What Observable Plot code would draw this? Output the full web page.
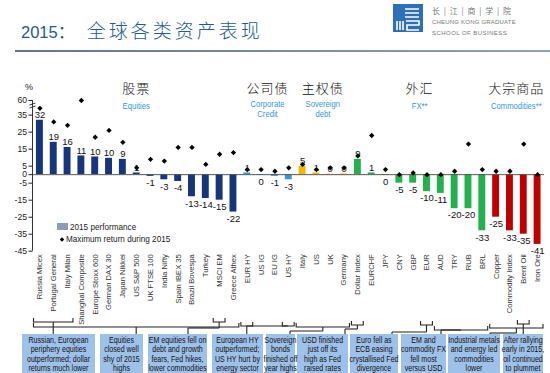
<!DOCTYPE html>
<html><head><meta charset="utf-8">
<script src="https://cdn.jsdelivr.net/npm/d3@7"></script>
<script src="https://cdn.jsdelivr.net/npm/@observablehq/plot@0.6"></script>
<style>
body{margin:0;background:#fff;}
#wrap{position:relative;width:550px;height:373px;overflow:hidden;font-family:"Liberation Sans Narrow","Arial Narrow","Liberation Sans",Arial,sans-serif;}
#wrap svg{position:absolute;left:0;top:0;}
.abs{position:absolute;white-space:nowrap;}
</style></head><body><div id="wrap"></div>
<script>
// ---------- data ----------
const groupKeys = ["Equities", "Corporate Credit", "Sovereign debt", "FX", "Commodities"];
const groupColors = ["#17357c", "#3598d8", "#f5b700", "#22b14c", "#c00000"];
const groupZh = ["股票", "公司债", "主权债", "外汇", "大宗商品"];
const groupEn = [["Equities"], ["Corporate", "Credit"], ["Sovereign", "debt"], ["FX**"], ["Commodities**"]];

const equityNames = ["Russia Micex","Portugal General","Italy Milan","Shanghai Composite","Europe Stoxx 600","German DAX 30","Japan Nikkei","US S&P 500","UK FTSE 100","India Nifty","Spain IBEX 35","Brazil Bovespa","Turkey","MSCI EM","Greece Athex"];
const equityPerf  = [32, 19, 16, 11, 10.4, 9.6, 9, 1, -1, -3, -4, -13, -14, -15, -22];
const equityMax   = [39, 31, 29, 60, 22, 26, 19, 4, 9, 8, 16, 16, 6, 12, 13];

const creditNames = ["EUR HY","US IG","EU IG","US HY"];
const creditPerf  = [1, -0.3, -1, -3];
const creditMax   = [3, 3, 2, 4];

const sovNames = ["Italy","US","UK","Germany"];
const sovPerf  = [5, 1, 0.3, 0.4];
const sovMax   = [6, 3, 4, 4];

const fxNames = ["Dollar Index","EURCHF","JPY","CNY","GBP","EUR","AUD","TRY","RUB","BRL"];
const fxPerf  = [9, 1, -0.4, -5, -5, -10, -11, -20, -20, -33];
const fxMax   = [11, 23, 3, 0, 1, 0, 0, 2, 18, 3];

const comNames = ["Copper","Commodity Index","Brent Oil","Iron Ore"];
const comPerf  = [-25, -33, -35, -41];
const comMax   = [2, 2, 18, 0];

const yTicks = [-45, -35, -25, -15, -5, 0, 5, 15, 25, 35, 60];

const noteTexts = [
  ["Russian, European","periphery equities","outperformed; dollar","returns much lower"],
  ["Equities","closed well","shy of 2015","highs"],
  ["EM equities fell on","debt and growth","fears, Fed hikes,","lower commodities"],
  ["European HY","outperformed;","US HY hurt by","energy sector"],
  ["Sovereign","bonds","finished off","year highs"],
  ["USD finished","just off its","high as Fed","raised rates"],
  ["Euro fell as","ECB easing","crystallised Fed","divergence"],
  ["EM and","commodity FX","fell most","versus USD"],
  ["Industrial metals","and energy led","commodities","lower"],
  ["After rallying","early in 2015,","oil continued","to plummet"]
];
const noteSpans = [
  [["Russia Micex","Italy Milan"]],
  [["Russia Micex","Greece Athex"]],
  [["MSCI EM","MSCI EM"]],
  [["EUR HY","EUR HY"],["US HY","US HY"]],
  [["Italy","Germany"]],
  [["Dollar Index","Dollar Index"]],
  [["EUR","EUR"]],
  [["AUD","BRL"]],
  [["Copper","Iron Ore"]],
  [["Brent Oil","Brent Oil"]]
];

// ---------- table ----------
const groupData = [
  [equityNames, equityPerf, equityMax],
  [creditNames, creditPerf, creditMax],
  [sovNames, sovPerf, sovMax],
  [fxNames, fxPerf, fxMax],
  [comNames, comPerf, comMax]
];
const rows = [];
groupData.forEach(([n, p, m], gi) => n.forEach((name, i) => rows.push({name, group: groupKeys[gi], perf: p[i], max: m[i]})));
const names = rows.map(d => d.name);

// broken axis above 40
const brk = v => v > 40 ? 40 + (v - 40) * 0.18 : v;

const FONT = '"Liberation Sans Narrow","Arial Narrow","Liberation Sans",Arial,sans-serif';
const CJK = '"Noto Sans CJK SC","Noto Sans CJK TC",sans-serif';

const plot = Plot.plot({
  width: 550, height: 373,
  marginLeft: 32.5, marginRight: 6, marginTop: 100, marginBottom: 122.3,
  style: {fontFamily: FONT, fontSize: "10px", background: "transparent", color: "#222", overflow: "visible"},
  x: {type: "band", domain: names, paddingInner: 0.5, paddingOuter: 0.25, axis: null, label: null},
  y: {domain: [-45, brk(60)], axis: null, label: null},
  color: {domain: groupKeys, range: groupColors},
  marks: [
    Plot.axisY({ticks: yTicks.map(brk), tickFormat: d => d > 40 ? "60" : String(d), tickSize: 4, tickPadding: 2, fontSize: 8.6, label: null}),
    Plot.axisX({tickRotate: -90, tickSize: 0, tickPadding: 3, fontSize: 7.6, fill: "#333", label: null}),
    Plot.barY(rows, {x: "name", y: "perf", fill: "group"}),
    Plot.ruleY([0], {stroke: "#555", strokeWidth: 1}),
    Plot.dot(rows, {x: "name", y: d => brk(d.max), symbol: "diamond2", r: 2.4, fill: "#000", stroke: "none"}),
    Plot.text(rows.filter(d => d.perf >= 0), {x: "name", y: "perf", text: d => `${Math.round(d.perf)}`, lineAnchor: "bottom", dy: -2, fontSize: 9.5, fill: "#111"}),
    Plot.text(rows.filter(d => d.perf < 0), {x: "name", y: "perf", text: d => `${Math.round(d.perf)}`, lineAnchor: "top", dy: 3, fontSize: 9.5, fill: "#111"})
  ]
});

const wrap = document.getElementById("wrap");
wrap.appendChild(plot);

// ---------- annotations using the plot's scales ----------
const xs = plot.scale("x"), ys = plot.scale("y");
const bw = xs.bandwidth, step = xs.step;
const cx = n => xs.apply(n) + bw / 2;
const L = n => cx(n) - step / 2 + 1, R = n => cx(n) + step / 2 - 1;
const svg = d3.select(plot);
const x0 = xs.range[0];
const yTop = ys.apply(brk(60)), yBot = ys.apply(-45);

function ntext(g, x, y, s, size, anchor, sx = 0.86) {
  return g.append("text").attr("transform", `translate(${x},${y}) scale(${sx},1)`)
    .attr("text-anchor", anchor).attr("dominant-baseline", "middle").attr("font-size", size).text(s);
}

const ax = svg.append("g").attr("stroke", "#333").attr("fill", "none");
ax.append("line").attr("x1", x0).attr("x2", x0).attr("y1", yTop).attr("y2", yBot);
ax.append("path").attr("d", `M${x0-3},${yTop+5} l6,-2 M${x0-3},${yTop+8} l6,-2`);
svg.append("text").attr("x", 29).attr("y", 88).attr("text-anchor", "middle").attr("dominant-baseline", "middle").attr("font-size", 9).attr("fill", "#222").text("%");

// group headers
groupData.forEach(([n], gi) => {
  const c = (cx(n[0]) + cx(n[n.length - 1])) / 2;
  svg.append("text").attr("x", c).attr("y", 89).attr("text-anchor", "middle").attr("dominant-baseline", "middle")
    .attr("font-family", CJK).attr("font-size", 13).attr("font-weight", 300).attr("letter-spacing", 1).attr("fill", "#111").text(groupZh[gi]);
  const en = groupEn[gi];
  const eg = svg.append("g").attr("fill", "#3598d8");
  en.forEach((t, k) => ntext(eg, c, (en.length > 1 ? 105 : 107) + k * 10, t, 8.5, "middle", 0.9));
});

// legend
const lg = svg.append("g").attr("fill", "#222");
lg.append("rect").attr("x", 57).attr("y", 223).attr("width", 11).attr("height", 7).attr("fill", "#8a9cb6");
ntext(lg, 70, 227, "2015 performance", 9.5, "start");
lg.append("path").attr("d", d3.symbol(d3.symbolSquare, 10)()).attr("transform", `translate(62,239.5) rotate(45)`).attr("fill", "#000");
ntext(lg, 66, 239.5, "Maximum return during 2015", 9.5, "start");

// note layout (pixels)
const boxes = [[22,95],[100,143],[148,207],[212,263],[266,295],[297,348],[350,398],[401,446],[448,500],[503,543]];
const brY   = [322, 327, 322, 326, 327, 325, 325, 330, 328, 324];
const joinY = [null, null, 328, 326, 331, 329, 332, 330, 333, null];
const drops = [null, null, 188, null, 290, 345, 392, 441, 490, null];
const boxTop = 334;

const lines = svg.append("g").attr("fill", "none").attr("stroke", "#222").attr("stroke-width", 1.1);
noteSpans.forEach((spans, k) => {
  const by = brY[k];
  const centers = spans.map(([a, b]) => {
    const l = L(a), r = R(b);
    lines.append("path").attr("d", `M${l},${by - 4}V${by}H${r}V${by - 4}`);
    return (l + r) / 2;
  });
  const dx = drops[k] ?? centers[0];
  const jy = joinY[k] ?? by;
  centers.forEach(c => { if (jy !== by) lines.append("line").attr("x1", c).attr("x2", c).attr("y1", by).attr("y2", jy); });
  const xsAll = centers.concat([dx]);
  if (d3.min(xsAll) !== d3.max(xsAll)) lines.append("line").attr("x1", d3.min(xsAll)).attr("x2", d3.max(xsAll)).attr("y1", jy).attr("y2", jy);
  lines.append("line").attr("x1", dx).attr("x2", dx).attr("y1", jy).attr("y2", boxTop);
});

const bx = svg.append("g").attr("fill", "#111");
noteTexts.forEach((t, k) => {
  const [a, b] = boxes[k];
  bx.append("rect").attr("x", a).attr("y", boxTop).attr("width", b - a).attr("height", 45).attr("fill", "#9ec1ea");
});
noteTexts.forEach((t, k) => {
  const [a, b] = boxes[k];
  t.forEach((s, j) => ntext(bx, (a + b) / 2, 340.5 + j * 9.5, s, 8.4, "middle", 0.84));
});

// ---------- title and logo ----------
const title = document.createElement("div");
title.className = "abs";
title.style.cssText = "left:21px;top:19px;color:#1e5b8e;font-family:'Noto Sans CJK SC',sans-serif;line-height:22px;";
title.innerHTML = '<span style="font-family:\'Liberation Sans\',Arial,sans-serif;font-size:16.5px;">2015</span><span style="font-size:17px;margin-right:12px;">：</span><span style="font-size:19px;letter-spacing:3px;font-weight:300;">全球各类资产表现</span>';
wrap.appendChild(title);

const rule = document.createElement("div");
rule.className = "abs";
rule.style.cssText = "left:15px;top:50px;width:535px;height:2px;background:linear-gradient(90deg,#5f7791,#8fa2b6);";
wrap.appendChild(rule);

const logo = document.createElement("div");
logo.className = "abs";
logo.style.cssText = "left:393px;top:4px;";
logo.innerHTML = `<svg width="30" height="28" style="position:static"><rect width="30" height="28" fill="#2f6fb5"/>
<g stroke="#fff" stroke-width="1.6" fill="none"><path d="M12 5H26M12 9H26M12 13H26"/><path d="M4 17V26M7 17V26M10 17V26"/><path d="M13 17H26V21H14V26H26"/></g></svg>`;
wrap.appendChild(logo);
const lt = document.createElement("div");
lt.className = "abs";
lt.style.cssText = "left:432px;top:5px;color:#777;font-family:'Liberation Sans',Arial,sans-serif;line-height:11px;";
lt.innerHTML = '<div style="font-family:\'Noto Sans CJK SC\';font-size:8px;letter-spacing:1px;">长 | 江 | 商 | 学 | 院</div><div style="font-size:6px;letter-spacing:0.2px;margin-top:1px">CHEUNG KONG GRADUATE</div><div style="font-size:6px;letter-spacing:0.45px;">SCHOOL OF BUSINESS</div>';
wrap.appendChild(lt);
</script></body></html>
